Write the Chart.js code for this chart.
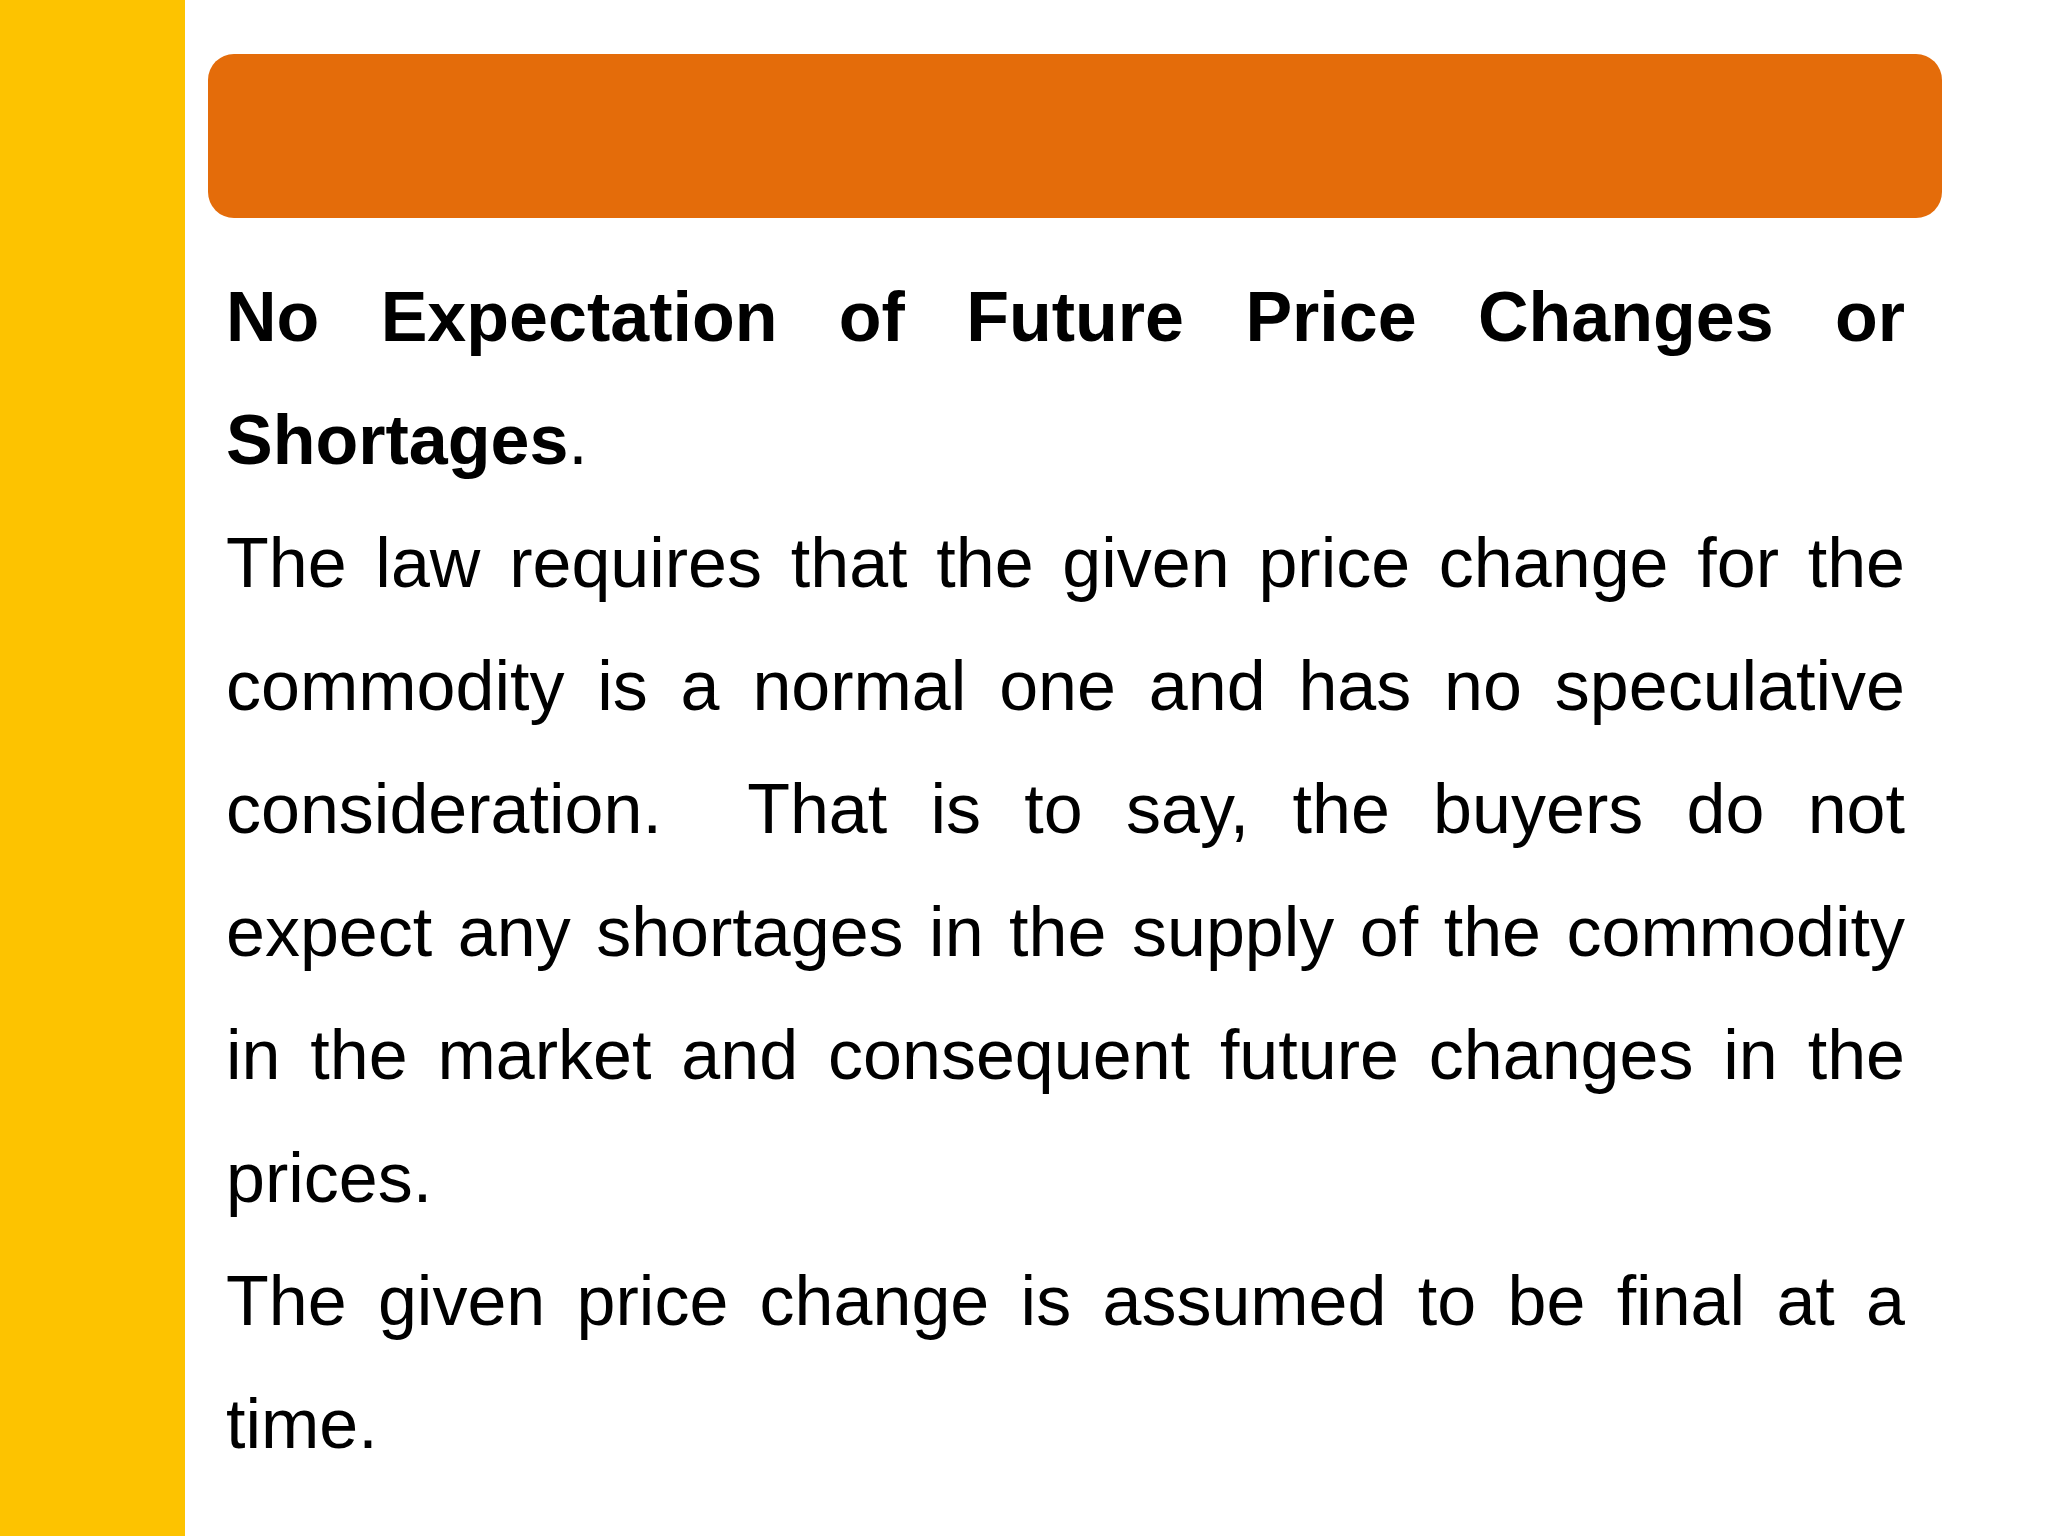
<!DOCTYPE html>
<html>
<head>
<meta charset="utf-8">
<script src="https://cdn.jsdelivr.net/npm/chart.js@4"></script>
<style>
  html, body { margin: 0; padding: 0; background: #fff; }
  body { width: 2048px; height: 1536px; position: relative; overflow: hidden; }
  #side { position: absolute; left: 0; top: 0; width: 185px; height: 1536px; background: #FDC300; }
  #band { position: absolute; left: 208px; top: 54px; width: 1734px; height: 164px; background: #E46C0A; border-radius: 26px; }
  #text { position: absolute; left: 226px; top: 256px; width: 1679px;
          font-family: "Liberation Sans", Arial, sans-serif; font-size: 70px; line-height: 123px;
          color: #000; text-align: justify; }
  #text p { margin: 0; }
  #bg { position: absolute; left: 0; top: 0; pointer-events: none; }
</style>
</head>
<body>
<canvas id="bg" width="2048" height="1536"></canvas>
<div id="side"></div>
<div id="band"></div>
<div id="text">
  <p><b>No Expectation of Future Price Changes or Shortages</b>.</p>
  <p>The law requires that the given price change for the commodity is a normal one and has no speculative consideration.&nbsp; That is to say, the buyers do not expect any shortages in the supply of the commodity in the market and consequent future changes in the prices.</p>
  <p>The given price change is assumed to be final at a time.</p>
</div>
<script>
// slide has no plotted data; empty chart kept as a transparent layer
const labels = [];
const values = [];
new Chart(document.getElementById('bg'), {
  type: 'bar',
  data: { labels, datasets: [{ data: values }] },
  options: {
    responsive: false, animation: false,
    plugins: { legend: { display: false }, tooltip: { enabled: false } },
    scales: { x: { display: false }, y: { display: false } }
  }
});
</script>
</body>
</html>
